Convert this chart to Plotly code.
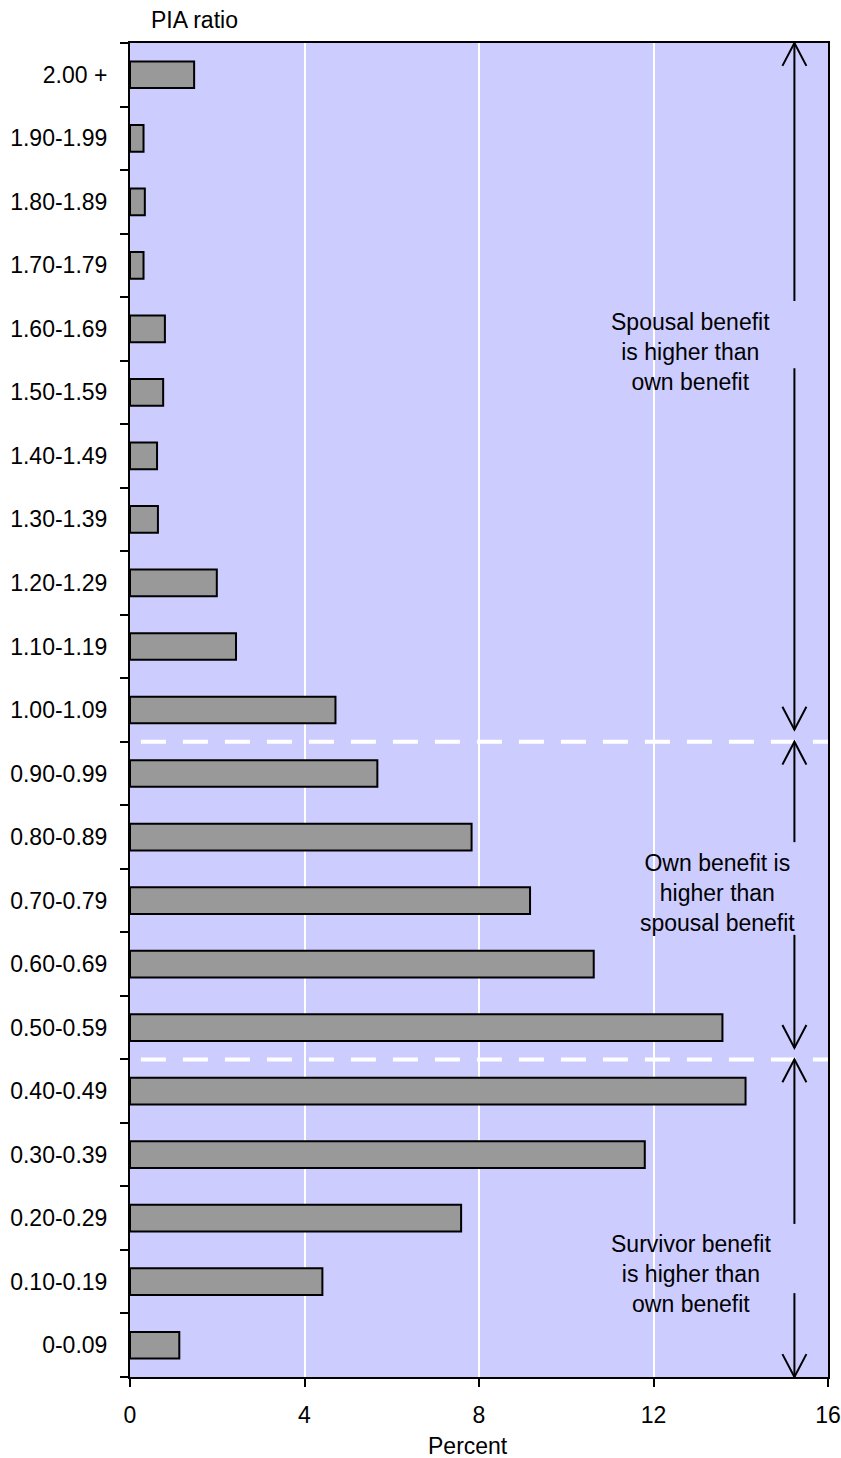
import plotly.graph_objects as go

# Data (bottom to top)
categories = ["0-0.09", "0.10-0.19", "0.20-0.29", "0.30-0.39", "0.40-0.49",
              "0.50-0.59", "0.60-0.69", "0.70-0.79", "0.80-0.89", "0.90-0.99",
              "1.00-1.09", "1.10-1.19", "1.20-1.29", "1.30-1.39", "1.40-1.49",
              "1.50-1.59", "1.60-1.69", "1.70-1.79", "1.80-1.89", "1.90-1.99",
              "2.00 +"]
percent = [1.13, 4.41, 7.59, 11.80, 14.11,
           13.58, 10.63, 9.17, 7.83, 5.67,
           4.71, 2.43, 1.99, 0.64, 0.62,
           0.76, 0.80, 0.31, 0.34, 0.31,
           1.47]
x_ticks = [0, 4, 8, 12, 16]
region_labels = ["Spousal benefit<br>is higher than<br>own benefit",
                 "Own benefit is<br>higher than<br>spousal benefit",
                 "Survivor benefit<br>is higher than<br>own benefit"]

FONT = "Liberation Sans, Arial, sans-serif"
FS = 23
ypos = list(range(len(categories)))

fig = go.Figure()
fig.add_trace(go.Bar(
    x=percent, y=ypos, orientation="h", width=0.42,
    marker=dict(color="#999999", line=dict(color="black", width=2)),
    hoverinfo="x+y", showlegend=False,
))

shapes = []
# dashed separators
for yb in [9.5, 4.5]:
    shapes.append(dict(type="line", xref="x", yref="y", x0=0.25, x1=16, y0=yb, y1=yb,
                       line=dict(color="white", width=4, dash="25px,17px"), layer="above"))

ax = 15.23
segs = [(20.5, 16.44), (15.38, 9.69), (9.5, 7.92), (6.46, 4.68), (4.5, 1.91), (0.82, -0.5)]
for a, b in segs:
    shapes.append(dict(type="line", xref="x", yref="y", x0=ax, x1=ax, y0=a, y1=b,
                       line=dict(color="black", width=2)))
hw, hh = 0.275, 0.36
up_tips = [20.5, 9.5, 4.5]
down_tips = [9.69, 4.68, -0.5]
for t in up_tips:
    shapes.append(dict(type="path", xref="x", yref="y",
                       path=f"M{ax-hw},{t-hh} L{ax},{t} L{ax+hw},{t-hh}",
                       line=dict(color="black", width=2)))
for t in down_tips:
    shapes.append(dict(type="path", xref="x", yref="y",
                       path=f"M{ax-hw},{t+hh} L{ax},{t} L{ax+hw},{t+hh}",
                       line=dict(color="black", width=2)))

annotations = []
label_pos = [(12.84, 15.64), (13.47, 7.12), (12.85, 1.12)]
for txt, (lx, ly) in zip(region_labels, label_pos):
    annotations.append(dict(text=txt, x=lx, y=ly, xref="x", yref="y", showarrow=False,
                            font=dict(family=FONT, size=FS, color="black"), align="center"))
annotations.append(dict(text="PIA ratio", x=0.093, y=1.0172, xref="paper", yref="paper",
                        showarrow=False, xanchor="center", yanchor="middle",
                        font=dict(family=FONT, size=FS, color="black")))
annotations.append(dict(text="Percent", x=0.484, y=-0.0515, xref="paper", yref="paper",
                        showarrow=False, xanchor="center", yanchor="middle",
                        font=dict(family=FONT, size=FS, color="black")))

fig.update_layout(
    width=841, height=1458, autosize=False,
    margin=dict(l=130, r=13, t=43, b=81, autoexpand=False),
    paper_bgcolor="white", plot_bgcolor="#CCCCFF",
    font=dict(family=FONT, size=FS, color="black"),
    shapes=shapes, annotations=annotations,
    bargap=0.58,
)
fig.update_xaxes(
    range=[0, 16], tickvals=x_ticks, ticktext=[str(v) for v in x_ticks],
    showgrid=True, gridcolor="white", gridwidth=2, automargin=False,
    showline=True, linecolor="black", linewidth=2, mirror=True,
    ticks="outside", ticklen=8, tickwidth=2, tickcolor="black",
    ticklabelstandoff=8, zeroline=False,
    tickfont=dict(family=FONT, size=FS, color="black"),
)
fig.update_yaxes(
    range=[-0.5, 20.5], tickvals=ypos, ticktext=categories,
    showgrid=False, zeroline=False, automargin=False,
    showline=True, linecolor="black", linewidth=2, mirror=True,
    ticks="", ticklabelstandoff=16,
    minor=dict(tickmode="linear", tick0=-0.5, dtick=1, ticks="outside",
               ticklen=8, tickwidth=2, tickcolor="black", showgrid=False),
    tickfont=dict(family=FONT, size=FS, color="black"),
)

fig.write_html("out.html",
               config={"responsive": False, "displayModeBar": False},
               post_script="document.body.style.margin='0';document.body.style.overflow='hidden';")
